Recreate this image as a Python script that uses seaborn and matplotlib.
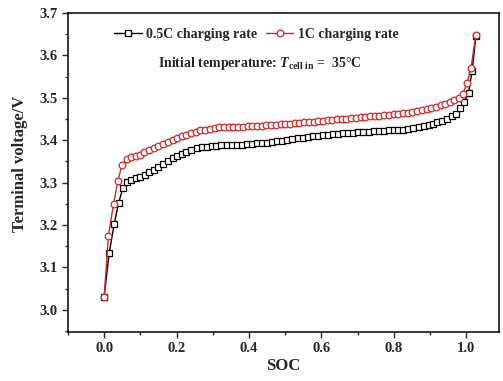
import matplotlib
matplotlib.use("Agg")
from matplotlib import pyplot as plt
from matplotlib.ticker import MultipleLocator
import seaborn as sns

# 0.5C charging rate (black squares)
soc_05c = [0.000, 0.014, 0.028, 0.040, 0.052, 0.062, 0.074, 0.087, 0.100, 0.113,
           0.125, 0.137, 0.150, 0.163, 0.176, 0.189, 0.201, 0.214, 0.227, 0.240,
           0.255, 0.269, 0.283, 0.297, 0.310, 0.324, 0.338, 0.352, 0.366, 0.380,
           0.394, 0.408, 0.422, 0.436, 0.450, 0.464, 0.478, 0.492, 0.506, 0.520,
           0.534, 0.548, 0.562, 0.576, 0.590, 0.604, 0.618, 0.632, 0.646, 0.660,
           0.674, 0.688, 0.702, 0.716, 0.730, 0.744, 0.758, 0.772, 0.786, 0.800,
           0.812, 0.826, 0.840, 0.854, 0.868, 0.882, 0.896, 0.908, 0.920, 0.933,
           0.947, 0.960, 0.972, 0.983, 0.994, 1.006, 1.016, 1.026]
volt_05c = [3.031, 3.134, 3.203, 3.252, 3.288, 3.301, 3.305, 3.311, 3.314, 3.318,
            3.325, 3.330, 3.336, 3.343, 3.351, 3.357, 3.363, 3.368, 3.373, 3.377,
            3.381, 3.383, 3.385, 3.386, 3.387, 3.388, 3.388, 3.389, 3.389, 3.389,
            3.390, 3.392, 3.393, 3.393, 3.394, 3.396, 3.397, 3.398, 3.400, 3.402,
            3.404, 3.405, 3.407, 3.409, 3.410, 3.412, 3.413, 3.414, 3.415, 3.416,
            3.417, 3.418, 3.419, 3.420, 3.420, 3.421, 3.421, 3.422, 3.423, 3.423,
            3.424, 3.425, 3.427, 3.429, 3.431, 3.433, 3.436, 3.439, 3.442, 3.446,
            3.450, 3.456, 3.462, 3.476, 3.490, 3.511, 3.564, 3.645]

# 1C charging rate (red circles)
soc_1c = [0.000, 0.012, 0.026, 0.038, 0.049, 0.062, 0.074, 0.087, 0.099, 0.111,
          0.124, 0.137, 0.150, 0.163, 0.176, 0.189, 0.201, 0.214, 0.227, 0.240,
          0.253, 0.266, 0.279, 0.292, 0.305, 0.318, 0.331, 0.344, 0.357, 0.370,
          0.383, 0.396, 0.409, 0.422, 0.435, 0.448, 0.461, 0.474, 0.487, 0.500,
          0.513, 0.526, 0.539, 0.552, 0.565, 0.578, 0.591, 0.604, 0.617, 0.630,
          0.643, 0.656, 0.669, 0.682, 0.695, 0.708, 0.721, 0.734, 0.747, 0.760,
          0.773, 0.786, 0.799, 0.812, 0.825, 0.838, 0.851, 0.864, 0.877, 0.890,
          0.903, 0.916, 0.929, 0.942, 0.955, 0.967, 0.979, 0.990, 1.002, 1.013,
          1.026]
volt_1c = [3.031, 3.175, 3.250, 3.303, 3.342, 3.355, 3.360, 3.363, 3.366, 3.371,
           3.376, 3.381, 3.386, 3.390, 3.395, 3.400, 3.404, 3.409, 3.413, 3.417,
           3.419, 3.423, 3.425, 3.427, 3.429, 3.430, 3.430, 3.431, 3.431, 3.432,
           3.432, 3.433, 3.433, 3.434, 3.434, 3.435, 3.436, 3.436, 3.437, 3.438,
           3.439, 3.440, 3.441, 3.442, 3.443, 3.444, 3.445, 3.446, 3.447, 3.448,
           3.449, 3.450, 3.451, 3.452, 3.453, 3.454, 3.455, 3.456, 3.457, 3.458,
           3.459, 3.460, 3.461, 3.462, 3.463, 3.465, 3.467, 3.469, 3.471, 3.473,
           3.476, 3.479, 3.482, 3.485, 3.489, 3.494, 3.499, 3.509, 3.535, 3.571,
           3.649]

red = "#d02828"

sns.set_style("ticks")
plt.rcParams["font.family"] = ["Liberation Serif", "DejaVu Serif"]
plt.rcParams["font.weight"] = "bold"
plt.rcParams["mathtext.fontset"] = "custom"
plt.rcParams["mathtext.rm"] = "Liberation Serif"
plt.rcParams["mathtext.it"] = "Liberation Serif:bold:italic"

fig = plt.figure(figsize=(5.03, 3.81), dpi=100)
ax = fig.add_axes([0.135, 0.129, 0.857, 0.837])

sns.lineplot(x=soc_05c, y=volt_05c, ax=ax, color="black", lw=1.0,
             marker="s", markersize=4.4, markerfacecolor="white",
             markeredgecolor="black", markeredgewidth=0.9,
             label="0.5C charging rate")
sns.lineplot(x=soc_1c, y=volt_1c, ax=ax, color=red, lw=1.0,
             marker="o", markersize=4.8, markerfacecolor="white",
             markeredgecolor=red, markeredgewidth=0.9,
             label="1C charging rate")

ax.set_xlim(-0.1, 1.09)
ax.set_ylim(2.948, 3.7)
ax.xaxis.set_major_locator(MultipleLocator(0.2))
ax.xaxis.set_minor_locator(MultipleLocator(0.1))
ax.yaxis.set_major_locator(MultipleLocator(0.1))
ax.yaxis.set_minor_locator(MultipleLocator(0.05))
ax.tick_params(which="major", length=4, width=1.0, labelsize=10.5)
ax.tick_params(which="minor", length=2.5, width=1.0)
for s in ax.spines.values():
    s.set_linewidth(1.1)
    s.set_color("black")

ax.set_xlabel("SOC", fontsize=12, fontweight="bold", labelpad=2)
ax.set_ylabel("Terminal voltage/V", fontsize=12, fontweight="bold")
ax.yaxis.set_label_coords(-0.092, 0.527)

ax.legend(loc="upper center", bbox_to_anchor=(0.437, 1.0), ncol=2,
          frameon=False, fontsize=10, handlelength=2.0, handletextpad=0.3,
          columnspacing=0.6, borderaxespad=0.65)
ax.text(0.445, 0.843, r"Initial temperature: $\mathit{T}_{\rm cell\ in}$ =  35°C",
        transform=ax.transAxes, ha="center", va="center", fontsize=10,
        fontweight="bold")

fig.savefig("out.png", dpi=100)
